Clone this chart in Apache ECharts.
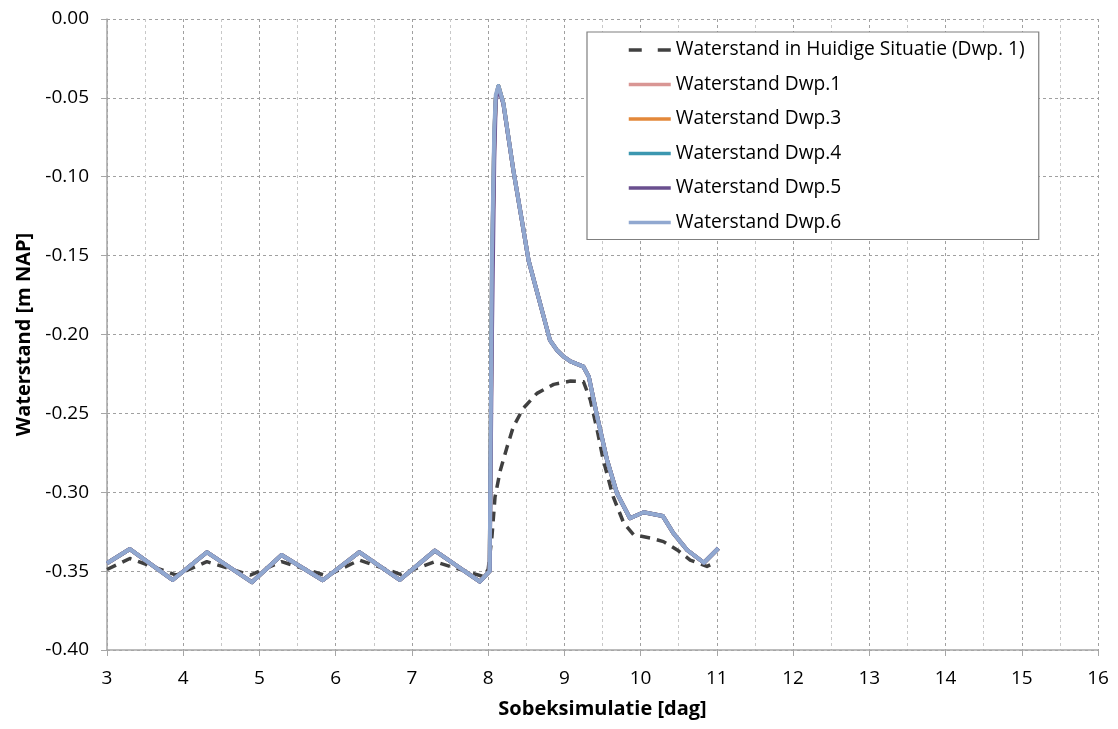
<!DOCTYPE html>
<html>
<head>
<meta charset="utf-8">
<script src="https://cdn.jsdelivr.net/npm/echarts@6/dist/echarts.min.js"></script>
<style>html,body{margin:0;padding:0;background:#fff}#c{width:1118px;height:729px}</style>
</head>
<body>
<div id="c"></div>
<script>
// ---- data ----
const seriesNames = ['Waterstand in Huidige Situatie (Dwp. 1)', 'Waterstand Dwp.1', 'Waterstand Dwp.3', 'Waterstand Dwp.4', 'Waterstand Dwp.5', 'Waterstand Dwp.6'];

const xHuidige = [3.0, 3.30, 3.91, 4.31, 4.88, 5.29, 5.88, 6.31, 6.85, 7.30, 7.94, 8.00, 8.05, 8.09, 8.16, 8.25, 8.33, 8.46, 8.64, 8.86, 9.08, 9.25, 9.34, 9.43, 9.51, 9.64, 9.78, 9.91, 10.13, 10.30, 10.48, 10.65, 10.87, 11.0];
const yHuidige = [-0.349, -0.342, -0.3525, -0.344, -0.3525, -0.344, -0.353, -0.343, -0.352, -0.344, -0.3535, -0.349, -0.328, -0.303, -0.286, -0.271, -0.2585, -0.2468, -0.2373, -0.2316, -0.2295, -0.2299, -0.2415, -0.2605, -0.2796, -0.3028, -0.3197, -0.327, -0.329, -0.3313, -0.3366, -0.343, -0.347, -0.344];

const xDwp = [3.0, 3.30, 3.86, 4.31, 4.90, 5.29, 5.83, 6.31, 6.84, 7.30, 7.89, 8.02, 8.05, 8.08, 8.10, 8.135, 8.20, 8.33, 8.44, 8.53, 8.68, 8.81, 8.90, 8.99, 9.08, 9.25, 9.32, 9.43, 9.56, 9.69, 9.86, 10.04, 10.29, 10.43, 10.61, 10.83, 11.02];
const yDwp1 = [-0.345, -0.336, -0.3556, -0.338, -0.357, -0.3398, -0.3558, -0.338, -0.3556, -0.337, -0.3567, -0.350, -0.160, -0.075, -0.050, -0.0425, -0.0535, -0.0957, -0.127, -0.153, -0.180, -0.2035, -0.2098, -0.214, -0.217, -0.2204, -0.2267, -0.252, -0.2796, -0.3007, -0.3165, -0.3127, -0.315, -0.326, -0.3366, -0.3447, -0.3355];
const yDwp3 = [-0.345, -0.336, -0.3556, -0.338, -0.357, -0.3398, -0.3558, -0.338, -0.3556, -0.337, -0.3567, -0.350, -0.160, -0.075, -0.050, -0.0425, -0.0535, -0.0957, -0.127, -0.153, -0.180, -0.2035, -0.2098, -0.214, -0.217, -0.2204, -0.2267, -0.252, -0.2796, -0.3007, -0.3165, -0.3127, -0.315, -0.326, -0.3366, -0.3447, -0.3355];
const yDwp4 = [-0.345, -0.336, -0.3556, -0.338, -0.357, -0.3398, -0.3558, -0.338, -0.3556, -0.337, -0.3567, -0.350, -0.160, -0.075, -0.050, -0.0425, -0.0535, -0.0957, -0.127, -0.153, -0.180, -0.2035, -0.2098, -0.214, -0.217, -0.2204, -0.2267, -0.252, -0.2796, -0.3007, -0.3165, -0.3127, -0.315, -0.326, -0.3366, -0.3447, -0.3355];
const yDwp5 = [-0.345, -0.336, -0.3556, -0.338, -0.357, -0.3398, -0.3558, -0.338, -0.3556, -0.337, -0.3567, -0.350, -0.200, -0.090, -0.052, -0.0435, -0.0540, -0.0957, -0.127, -0.153, -0.180, -0.2035, -0.2098, -0.214, -0.217, -0.2204, -0.2267, -0.252, -0.2796, -0.3007, -0.3165, -0.3127, -0.315, -0.326, -0.3366, -0.3447, -0.3355];
const yDwp6 = [-0.345, -0.336, -0.3556, -0.338, -0.357, -0.3398, -0.3558, -0.338, -0.3556, -0.337, -0.3567, -0.350, -0.150, -0.070, -0.048, -0.0425, -0.0535, -0.0957, -0.127, -0.153, -0.180, -0.2035, -0.2098, -0.214, -0.217, -0.2204, -0.2267, -0.252, -0.2796, -0.3007, -0.3165, -0.3127, -0.315, -0.326, -0.3366, -0.3447, -0.3355];

const xTicks = [3, 16, 1];      // min, max, interval
const yTicks = [-0.40, 0.00, 0.05];

const colors = ['#404040', '#D99694', '#E3883A', '#3C97B0', '#6A4F8F', '#91A8D0'];

function pairs(xs, ys) { return xs.map((x, i) => [x, ys[i]]); }

const FONT = '"Open Sans", Lato, sans-serif';
const chart = echarts.init(document.getElementById('c'), null, { renderer: 'canvas' });

const ySets = [yHuidige, yDwp1, yDwp3, yDwp4, yDwp5, yDwp6];
const series = seriesNames.map((name, i) => ({
  name: name,
  type: 'line',
  symbol: 'none',
  smooth: false,
  data: pairs(i === 0 ? xHuidige : xDwp, ySets[i]),
  lineStyle: {
    color: colors[i],
    width: i === 0 ? 3.5 : 4,
    type: i === 0 ? [10, 7] : 'solid',
    join: 'round'
  },
  itemStyle: { color: colors[i] },
  z: 2 + i
}));

const legendData = seriesNames.map((n, i) => i === 0
  ? { name: n, lineStyle: { type: [13, 16], width: 3.5, color: colors[0] } }
  : { name: n });

chart.setOption({
  animation: false,
  backgroundColor: '#fff',
  textStyle: { fontFamily: FONT },
  grid: { left: 107, right: 20, top: 19, bottom: 79, containLabel: false },
  legend: {
    orient: 'vertical',
    left: 587,
    top: 32,
    padding: [8, 14, 7, 40],
    itemWidth: 42,
    itemHeight: 20,
    itemGap: 14.5,
    backgroundColor: '#fff',
    borderColor: '#7f7f7f',
    borderWidth: 1.2,
    itemStyle: { opacity: 0 },
    lineStyle: { width: 3.5 },
    textStyle: { fontSize: 19.2, color: '#000', fontFamily: FONT, lineHeight: 20 },
    data: legendData
  },
  xAxis: {
    type: 'value',
    min: xTicks[0], max: xTicks[1], interval: xTicks[2],
    name: 'Sobeksimulatie [dag]',
    nameLocation: 'middle',
    nameGap: 49,
    nameTextStyle: { fontSize: 20, fontWeight: 'bold', color: '#000', fontFamily: FONT },
    axisLine: { show: true, onZero: false, lineStyle: { color: '#a6a6a6', width: 1.5 } },
    axisTick: { show: true, length: 6, lineStyle: { color: '#a6a6a6' } },
    axisLabel: { fontSize: 19, color: '#000', margin: 19, fontFamily: FONT },
    splitLine: { show: true, lineStyle: { color: '#a0a0a0', type: [3, 3], width: 1 } },
    minorTick: { show: false, splitNumber: 2 },
    minorSplitLine: { show: true, lineStyle: { color: '#c8c8c8', type: [3, 3], width: 1 } }
  },
  yAxis: {
    type: 'value',
    min: yTicks[0], max: yTicks[1], interval: yTicks[2],
    name: 'Waterstand [m NAP]',
    nameLocation: 'middle',
    nameGap: 72,
    nameRotate: 90,
    nameTextStyle: { fontSize: 20, fontWeight: 'bold', color: '#000', fontFamily: FONT },
    axisLine: { show: true, lineStyle: { color: '#a6a6a6', width: 1.5 } },
    axisTick: { show: true, length: 6, lineStyle: { color: '#a6a6a6' } },
    axisLabel: { fontSize: 19, color: '#000', margin: 18, fontFamily: FONT, formatter: v => v.toFixed(2) },
    splitLine: { show: true, lineStyle: { color: '#a0a0a0', type: [3, 3], width: 1 } }
  },
  series: series
});
</script>
</body>
</html>
